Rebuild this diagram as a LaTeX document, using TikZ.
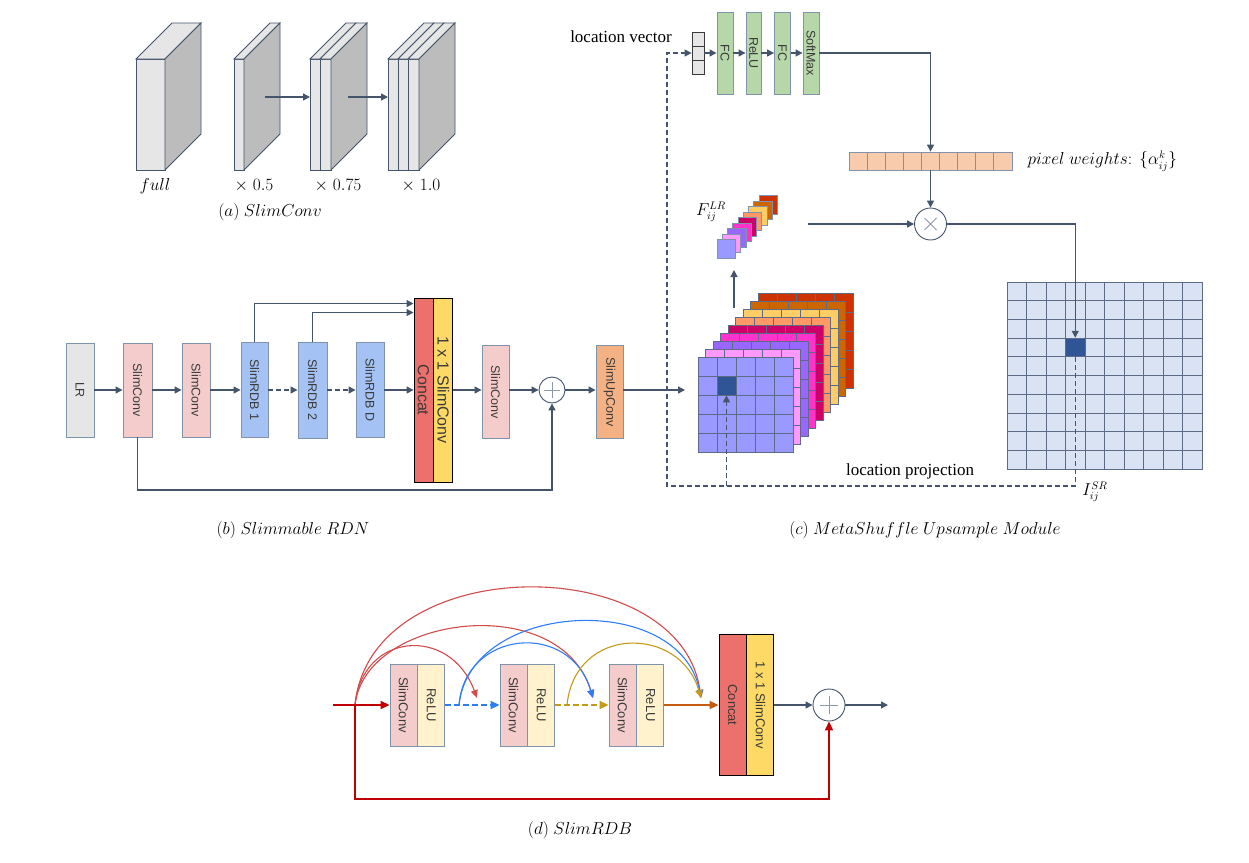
\documentclass[tikz,border=0pt]{standalone}
\usepackage{fontspec}
\setmainfont{Liberation Sans}
\newfontfamily\serf{Liberation Serif}
\usetikzlibrary{arrows.meta}

\definecolor{linec}{HTML}{44546A}
\definecolor{bordc}{HTML}{8093AD}
\definecolor{gridc}{HTML}{5B6B88}
\definecolor{txtc}{HTML}{3A3A3A}
\definecolor{greyf}{HTML}{E7E6E6}
\definecolor{sidef}{HTML}{BCBCBC}
\definecolor{pinkf}{HTML}{F4CCCC}
\definecolor{bluef}{HTML}{A4C2F4}
\definecolor{redf}{HTML}{EC706C}
\definecolor{yelf}{HTML}{FFD966}
\definecolor{orf}{HTML}{F4B183}
\definecolor{greenf}{HTML}{B6D7A8}
\definecolor{peachf}{HTML}{F8CBAD}
\definecolor{srf}{HTML}{DAE3F3}
\definecolor{darkc}{HTML}{2F5597}
\definecolor{creamf}{HTML}{FFF2CC}
\definecolor{dred}{HTML}{C00000}
\definecolor{cred}{HTML}{D24B4B}
\definecolor{cblue}{HTML}{2E7DF7}
\definecolor{cgold}{HTML}{C49A1A}
\definecolor{corange}{HTML}{C55A11}
% feature map layers
\definecolor{lavend}{HTML}{9999FF}
\definecolor{pinkl}{HTML}{FF99FF}
\definecolor{purpl}{HTML}{9966FF}
\definecolor{magen}{HTML}{FF33CC}
\definecolor{crims}{HTML}{CC0066}
\definecolor{salmn}{HTML}{FF9966}
\definecolor{yellw}{HTML}{FFCC66}
\definecolor{orang}{HTML}{CC6600}
\definecolor{redor}{HTML}{CC3300}

\tikzset{
  blk/.style={draw=bordc, line width=0.9pt, inner sep=0pt, text=txtc, font=\fontsize{12.5}{12.5}\selectfont},
  bigblk/.style={draw=black, line width=0.9pt, inner sep=0pt, text=txtc, font=\fontsize{16}{16}\selectfont},
  dblk/.style={blk, font=\fontsize{13}{13}\selectfont, minimum width=27pt, minimum height=82pt},
  vcell/.style={draw=txtc, fill=greyf, line width=0.8pt, inner sep=0pt, minimum width=12pt, minimum height=14pt},
  arr/.style={draw=linec, line width=1.3pt, -{Triangle[length=7pt,width=7pt]}},
  dsh/.style={arr, dash pattern=on 5pt off 3pt},
  lbl/.style={font=\fontsize{16}{18}\selectfont},
  serftxt/.style={font=\serf\fontsize{17}{17}\selectfont},
  slabface/.style={draw=linec, line width=0.8pt, fill=greyf},
  cellgrid/.style={draw=gridc, line width=0.7pt},
  opnode/.style={circle, draw=linec, line width=0.9pt, fill=white, inner sep=0pt},
  curv/.style={line width=1.1pt, -{Triangle[length=8pt,width=7pt]}},
  thick red/.style={draw=dred, line width=1.8pt, -{Triangle[length=9pt,width=8pt]}},
}

\newcommand{\vtxt}[1]{\rotatebox{-90}{#1}}
\newcommand{\slab}[2]{%
  \filldraw[slabface] (#1,59) rectangle (#2,170);
  \filldraw[slabface] (#1,59) -- (#1+36,23) -- (#2+36,23) -- (#2,59) -- cycle;}
\newcommand{\slabside}[1]{%
  \filldraw[slabface, fill=sidef] (#1,59) -- (#1+36,23) -- (#1+36,134) -- (#1,170) -- cycle;}
\newcommand{\lrlayer}[3]{%
  \filldraw[cellgrid, fill=#3] (#1,#2) rectangle ++(95,95);
  \foreach \g in {1,...,4} {
    \draw[cellgrid] (#1+19*\g,#2) -- ++(0,95);
    \draw[cellgrid] (#1,#2+19*\g) -- ++(95,0);
  }}

\begin{document}
\begin{tikzpicture}[x=1pt, y=-1pt]
\useasboundingbox (0,0) rectangle (1249,862);

% (a) SlimConv
\foreach \xa/\xb in {136/165, 234/244, 310/320, 320/331, 388/398, 398/408, 408/419}
  {\slab{\xa}{\xb}}
\foreach \xs in {165, 244, 331, 419}
  {\slabside{\xs}}
\coordinate (a1) at (265,97);
\coordinate (a2) at (310,97);
\coordinate (a3) at (348,97);
\coordinate (a4) at (388,97);
\draw[arr] (a1) -- (a2);
\draw[arr] (a3) -- (a4);
\node[lbl] (wfull) at (155,186) {$full$};
\node[lbl] (w05) at (254,186) {$\times\;0.5$};
\node[lbl] (w075) at (338,186) {$\times\;0.75$};
\node[lbl] (w10) at (421,186) {$\times\;1.0$};
\node[lbl] (capa) at (270,212) {$(a)\ SlimConv$};

% (b) Slimmable RDN
\node[blk, fill=greyf, minimum width=28pt, minimum height=94pt] (lr) at (80,390) {\vtxt{LR}};
\node[blk, fill=pinkf, minimum width=29pt, minimum height=94pt] (sc1) at (137.5,390) {\vtxt{SlimConv}};
\node[blk, fill=pinkf, minimum width=28pt, minimum height=94pt] (sc2) at (196,390) {\vtxt{SlimConv}};
\node[blk, fill=bluef, minimum width=27pt, minimum height=95pt] (rdb1) at (254.5,390) {\vtxt{SlimRDB 1}};
\node[blk, fill=bluef, minimum width=29pt, minimum height=96pt] (rdb2) at (312.5,390) {\vtxt{SlimRDB 2}};
\node[blk, fill=bluef, minimum width=28pt, minimum height=95pt] (rdbd) at (370,390) {\vtxt{SlimRDB D}};
\node[bigblk, fill=redf, minimum width=19pt, minimum height=184pt] (cat) at (423.5,390) {\vtxt{Concat}};
\node[bigblk, fill=yelf, minimum width=19pt, minimum height=184pt, anchor=west] (c11) at (cat.east) {\vtxt{1 x 1 SlimConv}};
\node[blk, fill=pinkf, minimum width=27pt, minimum height=93pt] (sc3) at (495.5,392) {\vtxt{SlimConv}};
\node[opnode, minimum size=26pt] (plus) at (552,390) {};
\node[blk, fill=orf, minimum width=27pt, minimum height=93pt] (upc) at (609.5,392) {\vtxt{SlimUpConv}};
\draw[linec!60, line width=0.9pt] ([xshift=-8pt]plus.center) -- ([xshift=8pt]plus.center)
  ([yshift=-8pt]plus.center) -- ([yshift=8pt]plus.center);

\draw[arr] (lr) -- (sc1);
\draw[arr] (sc1) -- (sc2);
\draw[arr] (sc2) -- (rdb1);
\draw[dsh] (rdb1) -- (rdb2);
\draw[dsh] (rdb2) -- (rdbd);
\draw[arr] (rdbd) -- (cat);
\draw[arr] (rdb1.north) |- ([yshift=-6pt]cat.north west);
\draw[arr] (rdb2.north) |- ([yshift=-15pt]cat.north west);
\draw[arr] (c11.east |- plus) -- (sc3.west |- plus);
\draw[arr] (sc3.east |- plus) -- (plus);
\draw[arr] (plus) -- (upc.west |- plus);
\coordinate (bbot) at (137.5,490);
\draw[arr] (sc1.south) -- (bbot) -| (plus.south);
\coordinate (lrin) at (685,390);
\draw[arr] (upc.east |- lrin) -- (lrin);
\node[lbl] (capb) at (293,530) {$(b)\ Slimmable\ RDN$};

% (c) MetaShuffle Upsample Module
\node[serftxt] (lvtxt) at (621,37) {location vector};
\node[vcell] (lv1) at (698,39) {};
\node[vcell] (lv2) at (698,53) {};
\node[vcell] (lv3) at (698,67) {};
\node[blk, fill=greenf, minimum width=16pt, minimum height=82pt] (fc1) at (725,53) {\vtxt{FC}};
\node[blk, fill=greenf, minimum width=15pt, minimum height=82pt] (relu) at (753.5,53) {\vtxt{ReLU}};
\node[blk, fill=greenf, minimum width=16pt, minimum height=82pt] (fc2) at (782.5,53) {\vtxt{FC}};
\node[blk, fill=greenf, minimum width=16pt, minimum height=82pt] (smax) at (811,53) {\vtxt{SoftMax}};
\draw[arr] (lv2) -- (fc1);
\draw[arr] (fc1) -- (relu);
\draw[arr] (relu) -- (fc2);
\draw[arr] (fc2) -- (smax);

\node[draw=bordc, fill=peachf, line width=0.8pt, inner sep=0pt, minimum width=163pt, minimum height=18pt] (pw) at (930.5,161) {};
\foreach \c in {1,...,8}
  \draw[bordc, line width=0.8pt] (849+18.1*\c,152) -- (849+18.1*\c,170);
\node[lbl, anchor=west] (pwtxt) at (1024,161) {$pixel\ weights\colon\ \big\{\alpha_{ij}^{k}\big\}$};
\draw[arr] (smax) -| (pw);

\node[opnode, minimum size=32pt] (mult) at (930.5,224) {};
\draw[linec!60, line width=0.9pt] ([shift={(-6pt,-6pt)}]mult.center) -- ([shift={(6pt,6pt)}]mult.center)
  ([shift={(-6pt,6pt)}]mult.center) -- ([shift={(6pt,-6pt)}]mult.center);
\draw[arr] (pw) -- (mult);
\coordinate (fout) at (808,224);
\draw[arr] (fout) -- (mult);

% pixel feature F_ij
\foreach \cl [count=\n] in {redor,orang,yellw,salmn,crims,magen,purpl,pinkl,lavend} {
  \pgfmathsetmacro\off{9-\n}
  \filldraw[draw=bordc, line width=0.7pt, fill=\cl] (717+5.25*\off,239.5-5.5*\off) rectangle ++(18.5,18.5);
}
\node[lbl] (flr) at (711,212) {$F_{ij}^{LR}$};

% LR feature maps
\foreach \cl [count=\n] in {redor,orang,yellw,salmn,crims,magen,purpl,pinkl,lavend} {
  \pgfmathsetmacro\off{9-\n}
  \lrlayer{698+7.5*\off}{357-8*\off}{\cl}
}
\node[fill=darkc, draw=gridc, line width=0.7pt, inner sep=0pt, minimum size=19pt] (lrcell) at (726.5,385.5) {};
\coordinate (stk) at (734,308);
\coordinate (fst) at (734,270);
\draw[arr] (stk) -- (fst);

% SR image
\node[fill=srf, draw=gridc, line width=0.8pt, inner sep=0pt, minimum width=195pt, minimum height=187pt] (srg) at (1104.5,375.5) {};
\foreach \g in {1,...,9} {
  \draw[cellgrid] (1007+19.5*\g,282) -- ++(0,187);
  \draw[cellgrid] (1007,282+18.7*\g) -- ++(195,0);
}
\node[fill=darkc, draw=gridc, line width=0.7pt, inner sep=0pt, minimum width=19.5pt, minimum height=18.7pt] (srcell) at (1075.25,347.45) {};
\draw[arr] (mult) -| (srcell);
\node[lbl] (isr) at (1095,492) {$I_{ij}^{SR}$};

% location projection
\coordinate (dr) at (1075.25,486);
\coordinate (dl) at (667,486);
\draw[dsh] (srcell.south) -- (dr) -- (dl) |- (lv2);
\draw[dsh] (lrcell.south |- dl) -- (lrcell.south);
\node[serftxt] (lptxt) at (910,471) {location projection};
\node[lbl] (capc) at (925,530) {$(c)\ MetaShuffle\ Upsample\ Module$};

% (d) SlimRDB
\node[dblk, fill=pinkf] (dsc1) at (403.5,705) {\vtxt{SlimConv}};
\node[dblk, fill=creamf, anchor=west] (dre1) at (dsc1.east) {\vtxt{ReLU}};
\node[dblk, fill=pinkf] (dsc2) at (513.5,705) {\vtxt{SlimConv}};
\node[dblk, fill=creamf, anchor=west] (dre2) at (dsc2.east) {\vtxt{ReLU}};
\node[dblk, fill=pinkf] (dsc3) at (622.5,705) {\vtxt{SlimConv}};
\node[dblk, fill=creamf, anchor=west] (dre3) at (dsc3.east) {\vtxt{ReLU}};
\node[bigblk, fill=redf, font=\fontsize{13}{13}\selectfont, minimum width=27pt, minimum height=141pt] (dcat) at (732.5,705) {\vtxt{Concat}};
\node[bigblk, fill=yelf, font=\fontsize{13}{13}\selectfont, minimum width=27pt, minimum height=141pt, anchor=west] (d11) at (dcat.east) {\vtxt{1 x 1 SlimConv}};
\node[opnode, minimum size=32pt] (dplus) at (829,705) {};
\draw[linec!60, line width=0.9pt] ([xshift=-9pt]dplus.center) -- ([xshift=9pt]dplus.center)
  ([yshift=-9pt]dplus.center) -- ([yshift=9pt]dplus.center);

\coordinate (din) at (333,705);
\coordinate (dj) at (355,705);
\coordinate (dbot) at (355,799);
\coordinate (dout) at (888,705);
\coordinate (m12) at (477,698);
\coordinate (m23) at (593,698);
\coordinate (mcat) at (701,698);
\coordinate (bst) at (459,705);
\coordinate (gst) at (567,705);

% skip curves
\draw[curv, cred] (dj) .. controls (362,632) and (450,625) .. (m12);
\draw[curv, cred] (dj) .. controls (365,615) and (560,590) .. (m23);
\draw[curv, cred] (dj) .. controls (370,550) and (680,550) .. (mcat);
\draw[curv, cblue] (bst) .. controls (465,630) and (570,620) .. (m23);
\draw[curv, cblue] (bst) .. controls (470,600) and (680,590) .. (mcat);
\draw[curv, cgold] (gst) .. controls (575,625) and (680,625) .. (mcat);

\draw[thick red] (din) -- (dsc1);
\draw[thick red] (dj) -- (dbot) -| (dplus.south);
\draw[thick red, draw=cblue, dash pattern=on 6pt off 3pt] (dre1) -- (dsc2);
\draw[thick red, draw=cgold, dash pattern=on 6pt off 3pt] (dre2) -- (dsc3);
\draw[thick red, draw=corange] (dre3) -- (dcat);
\draw[arr] (d11) -- (dplus);
\draw[arr] (dplus) -- (dout);
\node[lbl] (capd) at (580,830) {$(d)\ SlimRDB$};
\end{tikzpicture}
\end{document}
